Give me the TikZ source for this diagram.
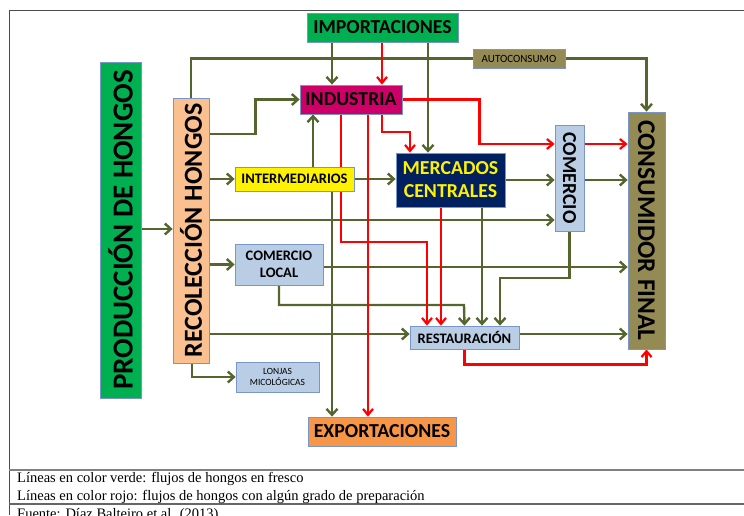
\documentclass[tikz,border=0pt]{standalone}
\usepackage{fontspec}
\setmainfont{Carlito}
\newfontfamily\legendfont{Liberation Serif}
\usetikzlibrary{arrows.meta,backgrounds}
\definecolor{verde}{RGB}{0,176,80}
\definecolor{melocoton}{RGB}{250,192,144}
\definecolor{frambuesa}{RGB}{204,0,102}
\definecolor{marino}{RGB}{0,32,96}
\definecolor{celeste}{RGB}{185,205,229}
\definecolor{oliva}{RGB}{148,138,84}
\definecolor{naranja}{RGB}{247,150,70}
\definecolor{flujoverde}{RGB}{84,102,45}
\definecolor{borde}{RGB}{120,150,200}
\newcommand{\enorme}{\bfseries\fontsize{29}{31}\selectfont}
\newcommand{\muygrande}{\bfseries\fontsize{26}{28}\selectfont}
\newcommand{\grande}{\bfseries\fontsize{19.8}{23}\selectfont}
\newcommand{\mediano}{\bfseries\fontsize{14.5}{17}\selectfont}
\newcommand{\chico}{\fontsize{11}{13}\selectfont}
\newcommand{\minimo}{\fontsize{9.5}{11.5}\selectfont}
\newcommand{\leyenda}{\legendfont\fontsize{14.5}{17}\selectfont}

\begin{document}
\begin{tikzpicture}[x=1pt,y=-1pt,
    caja/.style={draw=borde,line width=0.8pt,inner sep=0pt,align=center},
    fresco/.style={draw=flujoverde,line width=2.4pt,-{Straight Barb[length=6pt,width=11pt]}},
    preparado/.style={draw=red,line width=2.2pt,-{Straight Barb[length=6pt,width=10pt]}}
  ]
  \useasboundingbox (0,0) rectangle (744,515);
  \clip (0,0) rectangle (744,515);

  % cajas
  \node[caja,fill=verde,minimum width=151pt,minimum height=29pt,font=\grande] (imp) at (382.5,27.5) {IMPORTACIONES};
  \node[caja,fill=verde,minimum width=41pt,minimum height=336pt,font=\enorme] (prod) at (120.5,230) {\rotatebox{90}{PRODUCCIÓN DE HONGOS}};
  \node[caja,fill=melocoton,minimum width=36pt,minimum height=265pt,font=\muygrande] (rec) at (191,230.5) {\rotatebox{90}{RECOLECCIÓN HONGOS}};
  \node[caja,fill=frambuesa,minimum width=102pt,minimum height=29pt,font=\grande] (ind) at (351,99.5) {INDUSTRIA};
  \node[caja,fill=yellow,minimum width=119pt,minimum height=24pt,font=\mediano] (inter) at (294.5,179) {INTERMEDIARIOS};
  \node[caja,fill=marino,text=yellow,minimum width=109pt,minimum height=54pt,font=\grande] (merc) at (450.5,180) {MERCADOS\\CENTRALES};
  \node[caja,fill=celeste,minimum width=29pt,minimum height=106pt,font=\grande] (com) at (569.5,178) {\rotatebox{-90}{COMERCIO}};
  \node[caja,fill=oliva,minimum width=37pt,minimum height=237pt,font=\bfseries\fontsize{25.5}{27}\selectfont] (cons) at (646.5,230.5) {\rotatebox{-90}{CONSUMIDOR FINAL}};
  \node[caja,fill=oliva,minimum width=92pt,minimum height=19pt,font=\chico] (auto) at (519,58.5) {AUTOCONSUMO};
  \node[caja,fill=celeste,minimum width=88pt,minimum height=41pt,font=\mediano] (loc) at (279,264.5) {COMERCIO\\LOCAL};
  \node[caja,fill=celeste,minimum width=83pt,minimum height=30pt,font=\minimo] (lonj) at (277.5,377) {LONJAS\\MICOLÓGICAS};
  \node[caja,fill=celeste,minimum width=109pt,minimum height=23pt,font=\mediano] (rest) at (464.5,337.5) {RESTAURACIÓN};
  \node[caja,fill=naranja,minimum width=148pt,minimum height=29pt,font=\grande] (exp) at (382,431.5) {EXPORTACIONES};

  % leyenda
  \node[anchor=base west,inner sep=0pt,font=\leyenda] (verdes) at (17,482) {Líneas en color verde: flujos de hongos en fresco};
  \node[anchor=base west,inner sep=0pt,font=\leyenda] (rojas) at (17,500) {Líneas en color rojo: flujos de hongos con algún grado de preparación};
  \node[anchor=base west,inner sep=0pt,font=\leyenda] (fuente) at (17,518.5) {Fuente: Díaz Balteiro et al. (2013)};

  \begin{scope}[on background layer]
    % marco
    \draw[black!70,line width=0.8pt] (9,515) -- (9,10) -- (744,10);
    \draw[black!50,line width=1.5pt] (9,470) -- (744,470);
    \draw[black!60,line width=1.2pt] (9,504) -- (744,504);

    % flujos en fresco
    \draw[fresco] (prod.east |- 0,229) -- (rec.west |- 0,229);
    \draw[fresco,-] (rec.north) |- (auto.west);
    \draw[fresco] (auto.east) -| (cons.north);
    \draw[fresco] (imp.south -| 332,0) -- (ind.north -| 332,0);
    \draw[fresco] (imp.south -| 428,0) -- (merc.north -| 428,0);
    \draw[fresco] (rec.east |- 0,134) -- ++(46,0) |- (ind.west);
    \draw[fresco] (inter.north -| 313,0) -- (ind.south -| 313,0);
    \draw[fresco] (rec.east |- inter) -- (inter.west);
    \draw[fresco] (inter.east) -- (merc.west |- inter);
    \draw[fresco] (inter.south -| 332,0) -- (exp.north -| 332,0);
    \draw[fresco] (rec.east |- 0,220) -- (com.west |- 0,220);
    \draw[fresco] (merc.east) -- (com.west |- merc);
    \draw[fresco] (com.east |- merc) -- (cons.west |- merc);
    \draw[fresco] (rec.east |- loc.west) -- (loc.west);
    \draw[fresco] (loc.east |- 0,267) -- (cons.west |- 0,267);
    \draw[fresco] (loc.south) |- (464,305) -- (rest.north);
    \draw[fresco] (merc.south -| 482,0) -- (rest.north -| 482,0);
    \draw[fresco] (com.south) |- (500,278) -- (rest.north -| 500,0);
    \draw[fresco] (rec.east |- 0,334) -- (rest.west |- 0,334);
    \draw[fresco] (rest.east |- 0,334) -- (cons.west |- 0,334);
    \draw[fresco] (rec.south -| 192,0) |- (lonj.west);

    % flujos con preparacion
    \draw[preparado] (imp.south -| 382,0) -- (ind.north -| 382,0);
    \draw[preparado] (com.east |- 0,144) -- (cons.west |- 0,144);
    \draw[preparado] (ind.east) -- ++(77,0) |- (com.west |- 0,144);
    \draw[preparado] (ind.south -| 382,0) |- (410,132) -- (merc.north -| 410,0);
    \draw[preparado] (ind.south -| 341,0) |- (427,242) -- (rest.north -| 427,0);
    \draw[preparado] (ind.south -| 368,0) -- (exp.north -| 368,0);
    \draw[preparado] (merc.south -| 441,0) -- (rest.north -| 441,0);
    \draw[preparado] (rest.south) -- ++(0,15) -| (cons.south);
  \end{scope}
\end{tikzpicture}
\end{document}
